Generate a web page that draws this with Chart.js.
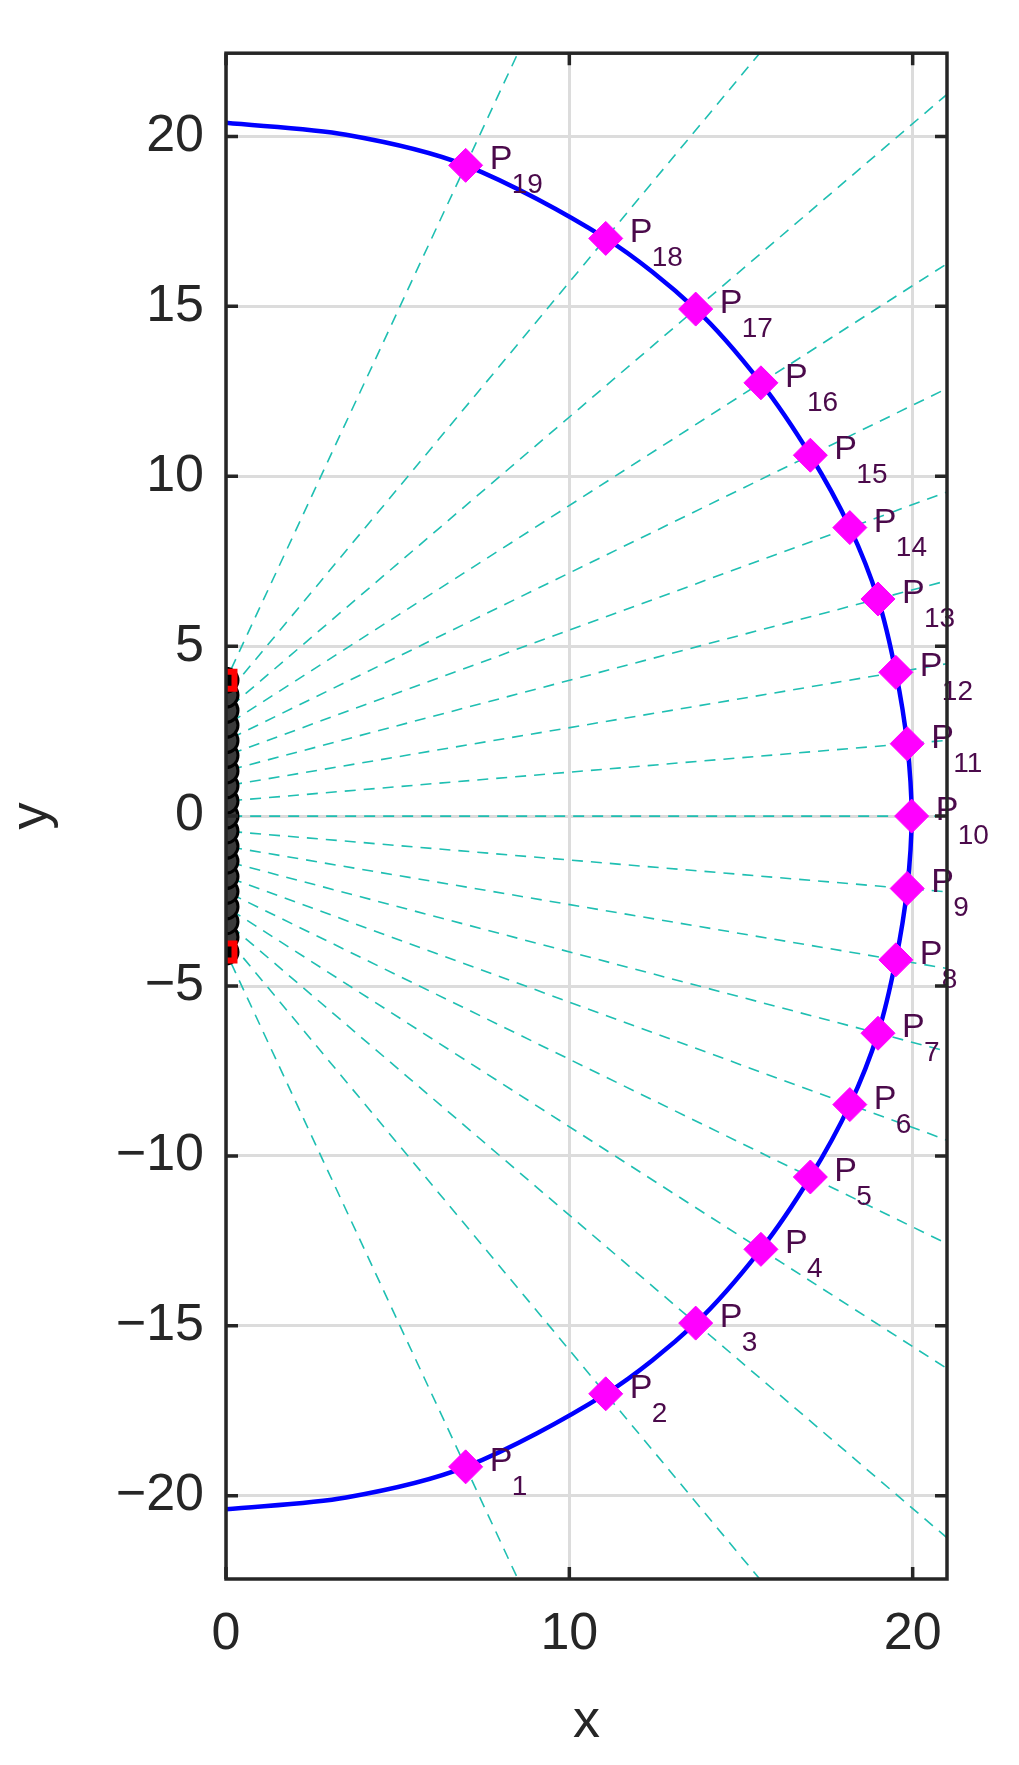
<!DOCTYPE html>
<html><head><meta charset="utf-8">
<script src="https://cdn.jsdelivr.net/npm/chart.js@4"></script>
<style>html,body{margin:0;padding:0;background:#fff}#wrap{width:1019px;height:1765px}</style>
</head><body><div id="wrap"><canvas id="c"></canvas></div>
<script>
const pointX = [6.98,11.06,13.68,15.58,17.02,18.17,18.99,19.51,19.84,19.97,19.84,19.51,18.99,18.17,17.02,15.58,13.68,11.06,6.98];
const pointY = [-19.15,-17.0,-14.92,-12.75,-10.62,-8.49,-6.39,-4.23,-2.13,0,2.13,4.23,6.39,8.49,10.62,12.75,14.92,17.0,19.15];
const pointLabels = ['1','2','3','4','5','6','7','8','9','10','11','12','13','14','15','16','17','18','19'];
const sourceY = [-4,-3.56,-3.11,-2.67,-2.22,-1.78,-1.33,-0.89,-0.44,0,0.44,0.89,1.33,1.78,2.22,2.67,3.11,3.56,4];
const curveEnds = [[0,20.4],[3.5,20.05],[0,-20.4],[3.5,-20.05]];
const xTicks = [0,10,20];
const yTicks = [-20,-15,-10,-5,0,5,10,15,20];

const datasets = [];
for (let i=0;i<pointX.length;i++){
  const s = sourceY[i];
  const k = (pointY[i]-s)/pointX[i];
  datasets.push({type:'line',data:[{x:0.15,y:s+0.15*k},{x:pointX[i],y:pointY[i]},{x:40,y:s+40*k}],
    borderColor:'#1fbfb2',borderWidth:1.6,borderDash:[11,8],pointRadius:0,tension:0,fill:false,order:5});
}
const curve = [{x:curveEnds[2][0],y:curveEnds[2][1]},{x:curveEnds[3][0],y:curveEnds[3][1]}];
for (let i=0;i<pointX.length;i++) curve.push({x:pointX[i],y:pointY[i]});
curve.push({x:curveEnds[1][0],y:curveEnds[1][1]},{x:curveEnds[0][0],y:curveEnds[0][1]});
datasets.push({type:'line',data:curve,borderColor:'#0000ff',borderWidth:4.5,pointRadius:0,tension:0.3,fill:false,order:4});
datasets.push({type:'scatter',data:sourceY.map(y=>({x:0,y:y})),pointStyle:'circle',pointRadius:12,
  backgroundColor:'#3a3a3a',borderColor:'#000',borderWidth:3,order:3});
datasets.push({type:'scatter',data:[{x:0,y:4},{x:0,y:-4}],pointStyle:'rect',pointRadius:12,backgroundColor:'#000',borderColor:'#ff0000',borderWidth:6,order:2});
datasets.push({type:'scatter',data:pointX.map((x,i)=>({x:x,y:pointY[i]})),pointStyle:'rectRot',pointRadius:17,
  backgroundColor:'#ff00ff',borderColor:'#ff00ff',borderWidth:1,order:1});

const decor = {
  id:'decor',
  afterDatasetsDraw(chart){
    const {ctx,chartArea:a,scales:{x,y}} = chart;
    ctx.save();
    ctx.fillStyle='#4b0a4b';
    ctx.textBaseline='alphabetic';
    for (let i=0;i<pointX.length;i++){
      const px=x.getPixelForValue(pointX[i]), py=y.getPixelForValue(pointY[i]);
      ctx.font='34px "Liberation Sans", Arial, sans-serif';
      ctx.fillText('P',px+24,py+4);
      ctx.font='28px "Liberation Sans", Arial, sans-serif';
      ctx.fillText(pointLabels[i],px+46,py+28);
    }
    ctx.strokeStyle='#262626';ctx.lineWidth=3.5;
    ctx.strokeRect(a.left,a.top,a.right-a.left,a.bottom-a.top);
    const L=12;
    xTicks.forEach(v=>{const p=x.getPixelForValue(v);ctx.beginPath();ctx.moveTo(p,a.bottom);ctx.lineTo(p,a.bottom-L);ctx.moveTo(p,a.top);ctx.lineTo(p,a.top+L);ctx.stroke();});
    yTicks.forEach(v=>{const p=y.getPixelForValue(v);ctx.beginPath();ctx.moveTo(a.left,p);ctx.lineTo(a.left+L,p);ctx.moveTo(a.right,p);ctx.lineTo(a.right-L,p);ctx.stroke();});
    ctx.restore();
  }
};
const fontFam='"Liberation Sans", Arial, sans-serif';
new Chart(document.getElementById('c'),{
  data:{datasets},
  options:{
    responsive:true,maintainAspectRatio:false,animation:false,
    layout:{padding:{left:0,right:72,top:26,bottom:0}},
    plugins:{legend:{display:false},tooltip:{enabled:false}},
    scales:{
      x:{type:'linear',min:0,max:21,
        afterBuildTicks:s=>{s.ticks=xTicks.map(v=>({value:v}));},
        afterFit:s=>{s.height=186;},
        grid:{color:'#dcdcdc',lineWidth:3,drawTicks:false},border:{display:false},
        ticks:{padding:24,color:'#262626',font:{size:52,family:fontFam},maxRotation:0,autoSkip:false},
        title:{display:true,text:'x',color:'#262626',font:{size:54,family:fontFam},padding:{top:0,bottom:10}}},
      y:{type:'linear',min:-22.45,max:22.45,
        afterBuildTicks:s=>{s.ticks=yTicks.map(v=>({value:v}));},
        afterFit:s=>{s.width=226;},
        grid:{color:'#dcdcdc',lineWidth:3,drawTicks:false},border:{display:false},
        ticks:{padding:22,color:'#262626',font:{size:52,family:fontFam},autoSkip:false,
          callback:v=>String(v).replace('-','\u2212')},
        title:{display:true,text:'y',color:'#262626',font:{size:54,family:fontFam},padding:{top:0,bottom:4}}}
    }
  },
  plugins:[decor]
});
</script></body></html>
